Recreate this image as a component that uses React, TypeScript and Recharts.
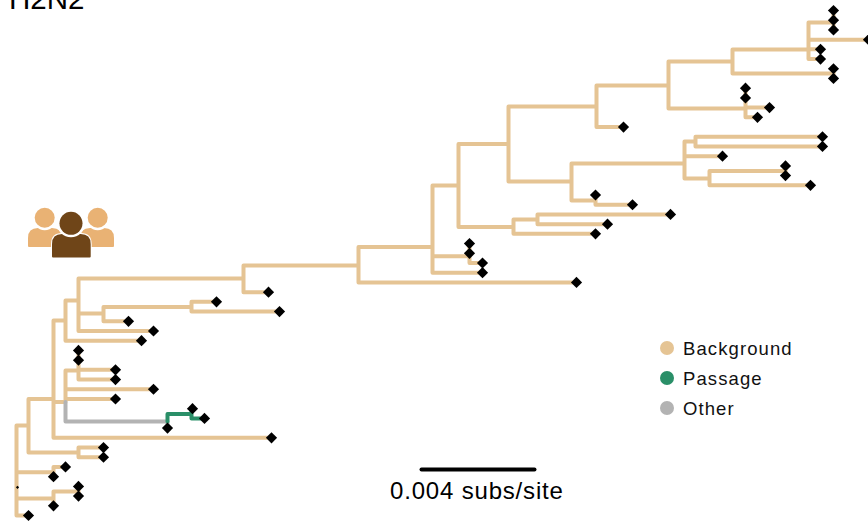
import { ComposedChart, Line, Scatter, XAxis, YAxis } from "recharts";

// x: divergence, 116 units = 0.004 subs/site. y: tip rank from the top of the tree.
const SCALE_START = 421;
const SCALE_LENGTH = 113;
const SCALE_RANK = 47.27;

const tipDivergence = [
  833, 833, 833, 868, 820, 820, 833, 833, 745, 745, 769, 757, 623, 822, 822, 722, 785, 785, 810,
  595, 632, 670, 607, 595, 469, 469, 482, 482, 576, 268, 216, 279, 128, 153, 141, 78, 78, 115,
  115, 153, 115, 192, 204, 167, 271, 103, 103, 65, 53, 78, 78, 53, 28,
];

// [parent divergence, parent rank, child divergence, child rank]
const backgroundEdges = [
  [16, 47.54, 28, 42.73], [16, 47.54, 53, 47.54], [16, 47.54, 53, 50.25], [16, 47.54, 28, 52],
  [28, 42.73, 53, 40], [28, 42.73, 78, 45.51],
  [78, 45.51, 103, 45], [78, 45.51, 103, 46],
  [53, 47.54, 65, 47], [53, 47.54, 53, 48],
  [53, 50.25, 78, 49.53], [53, 50.25, 53, 51],
  [78, 49.53, 78, 49], [78, 49.53, 78, 50],
  [53, 40, 65, 31.92], [53, 40, 271, 44], [53, 40, 65, 40.3],
  [65, 31.92, 78, 29.86], [65, 31.92, 141, 34],
  [78, 29.86, 243, 27.6], [78, 29.86, 103, 31.2], [78, 29.86, 153, 33],
  [103, 31.2, 128, 32], [103, 31.2, 191, 30.53],
  [191, 30.53, 216, 30], [191, 30.53, 279, 31],
  [243, 27.6, 358, 26.26], [243, 27.6, 268, 29],
  [358, 26.26, 432, 24.35], [358, 26.26, 576, 28],
  [432, 24.35, 458, 18.02], [432, 24.35, 469, 25.3], [432, 24.35, 482, 27],
  [469, 25.3, 469, 24], [469, 25.3, 469, 25], [469, 25.3, 482, 26],
  [458, 18.02, 508, 13.75], [458, 18.02, 513, 22.29],
  [513, 22.29, 537, 21.52], [513, 22.29, 595, 23],
  [537, 21.52, 670, 21], [537, 21.52, 607, 22],
  [508, 13.75, 596, 9.88], [508, 13.75, 571, 17.61],
  [596, 9.88, 668, 7.72], [596, 9.88, 623, 12],
  [668, 7.72, 732, 5.25], [668, 7.72, 745, 10.09],
  [745, 10.09, 745, 8], [745, 10.09, 745, 9], [745, 10.09, 769, 10], [745, 10.09, 757, 11],
  [732, 5.25, 808, 4.02], [732, 5.25, 833, 6.49],
  [833, 6.49, 833, 6], [833, 6.49, 833, 7],
  [808, 4.02, 833, 1.24], [808, 4.02, 868, 3], [808, 4.02, 820, 4], [808, 4.02, 820, 5],
  [833, 1.24, 833, 0], [833, 1.24, 833, 1], [833, 1.24, 833, 2],
  [571, 17.61, 684, 15.75], [571, 17.61, 595, 19.56],
  [595, 19.56, 595, 19], [595, 19.56, 632, 20],
  [684, 15.75, 695, 13.49], [684, 15.75, 722, 15], [684, 15.75, 709, 17.3],
  [695, 13.49, 822, 13], [695, 13.49, 822, 14],
  [709, 17.3, 785, 16.53], [709, 17.3, 810, 18],
  [785, 16.53, 785, 16], [785, 16.53, 785, 17],
  [65, 40.3, 78, 37.07], [65, 40.3, 153, 39], [65, 40.3, 115, 40],
  [78, 37.07, 78, 35], [78, 37.07, 78, 36], [78, 37.07, 115, 37], [78, 37.07, 115, 38],
];
const otherEdges = [[65, 40.3, 167, 42.32], [167, 42.32, 167, 43]];
const passageEdges = [[167, 42.32, 191, 41.55], [191, 41.55, 192, 41], [191, 41.55, 204, 42]];

const legendLabels = ["Background", "Passage", "Other"];
const legendColors = ["#E5C494", "#2A8F68", "#B3B3B3"];

// parent -> child elbows, with a null between them so the line breaks
function elbows(edges: number[][]) {
  return edges.flatMap(([px, py, cx, cy]) => [
    { x: px, y: py },
    { x: px, y: cy },
    { x: cx, y: cy },
    { x: cx, y: null },
  ]);
}

const tips = tipDivergence.map((x, rank) => ({ x, y: rank }));
const stubTip = [{ x: 17, y: 49.1 }];
const scaleBar = [
  { x: SCALE_START, y: SCALE_RANK },
  { x: SCALE_START + SCALE_LENGTH, y: SCALE_RANK },
];

function Diamond({ cx, cy, r = 5.6 }: { cx?: number; cy?: number; r?: number }) {
  return (
    <polygon
      points={`${cx},${cy! - r} ${cx! + r},${cy} ${cx},${cy! + r} ${cx! - r},${cy}`}
      fill="#000"
    />
  );
}

function Person({ x0, x1, top, bottom, head, headY, headR, fill }: any) {
  const r = 10;
  const body = `M${x0} ${bottom - 1} V${top + r} Q${x0} ${top} ${x0 + r} ${top} H${x1 - r} Q${x1} ${top} ${x1} ${top + r} V${bottom - 1} Q${x1} ${bottom} ${x1 - 1} ${bottom} H${x0 + 1} Q${x0} ${bottom} ${x0} ${bottom - 1}Z`;
  return (
    <g>
      <path d={body} fill={fill} stroke="#fff" strokeWidth={2} paintOrder="stroke" />
      <circle cx={head} cy={headY} r={headR + 2.5} fill="#fff" />
      <circle cx={head} cy={headY} r={headR} fill={fill} />
    </g>
  );
}

export default function App() {
  return (
    <div style={{ position: "absolute", left: 0, top: 0, width: 868, height: 523, overflow: "hidden" }}>
      <ComposedChart width={868} height={523} margin={{ top: 0, right: 0, bottom: 0, left: 0 }}>
        <XAxis type="number" dataKey="x" domain={[-0.5, 867.5]} hide allowDataOverflow />
        <YAxis type="number" dataKey="y" domain={[-1.08, 52.77]} reversed hide allowDataOverflow />
        <Line
          data={elbows(backgroundEdges)}
          dataKey="y"
          stroke={legendColors[0]}
          strokeWidth={4}
          strokeLinejoin="round"
          strokeLinecap="round"
          dot={false}
          activeDot={false}
          isAnimationActive={false}
        />
        <Line
          data={elbows(otherEdges)}
          dataKey="y"
          stroke={legendColors[2]}
          strokeWidth={4}
          strokeLinejoin="round"
          strokeLinecap="round"
          dot={false}
          activeDot={false}
          isAnimationActive={false}
        />
        <Line
          data={elbows(passageEdges)}
          dataKey="y"
          stroke={legendColors[1]}
          strokeWidth={4}
          strokeLinejoin="round"
          strokeLinecap="round"
          dot={false}
          activeDot={false}
          isAnimationActive={false}
        />
        <Line
          data={scaleBar}
          dataKey="y"
          stroke="#000"
          strokeWidth={4}
          strokeLinecap="round"
          dot={false}
          activeDot={false}
          isAnimationActive={false}
        />
        <Scatter data={tips} shape={<Diamond />} isAnimationActive={false} />
        <Scatter data={stubTip} shape={<Diamond r={1.6} />} isAnimationActive={false} />

        <text x={9} y={9} fontFamily="Liberation Sans" fontSize={29.5} fill="#000">
          H2N2
        </text>
        <text x={390} y={499} fontFamily="Liberation Sans" fontSize={24} letterSpacing={0.82} fill="#000">
          0.004 subs/site
        </text>

        {legendLabels.map((label, i) => (
          <g key={label}>
            <circle cx={667} cy={348 + i * 30} r={7} fill={legendColors[i]} />
            <text x={683} y={355 + i * 30} fontFamily="Liberation Sans" fontSize={18.5} letterSpacing={1.1} fill="#111">
              {label}
            </text>
          </g>
        ))}

        <Person x0={28} x1={62} top={228} bottom={247} head={44.7} headY={217.7} headR={10} fill="#E9B274" />
        <Person x0={80} x1={114} top={228} bottom={247} head={97.7} headY={217.7} headR={10} fill="#E9B274" />
        <Person x0={52} x1={90.7} top={234} bottom={257.5} head={71} headY={223.3} headR={11.5} fill="#6F4518" />
      </ComposedChart>
    </div>
  );
}
